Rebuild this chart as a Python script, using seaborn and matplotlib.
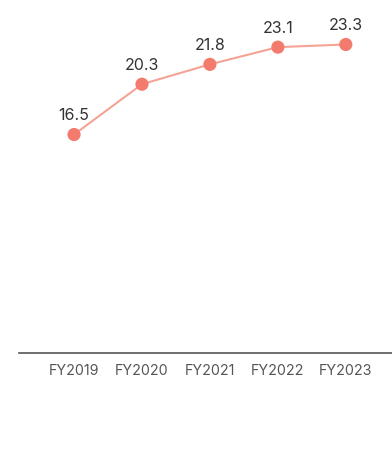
import matplotlib
matplotlib.use("Agg")
import matplotlib.pyplot as plt
import seaborn as sns
import pandas as pd

years = ["FY2019", "FY2020", "FY2021", "FY2022", "FY2023"]
values = [16.5, 20.3, 21.8, 23.1, 23.3]

sns.set_theme(style="white")
plt.rcParams["font.family"] = ["Inter", "DejaVu Sans"]

df = pd.DataFrame({"year": years, "value": values})

fig = plt.figure(figsize=(3.92, 4.54), dpi=100)
ax = fig.add_axes([19 / 392, 101 / 454, 1 - 19 / 392, 353 / 454])

sns.lineplot(data=df, x="year", y="value", ax=ax, color="#F4A394",
             linewidth=1.5, sort=False)
sns.scatterplot(data=df, x="year", y="value", ax=ax, color="#F27B6E",
                s=90, edgecolor="none", zorder=3)

for i, v in enumerate(values):
    ax.annotate(f"{v:.1f}", (i, v), xytext=(0, 8), textcoords="offset points",
                ha="center", va="bottom", fontsize=11.5, color="#333333")

ax.set_ylim(0, 26.66)
ax.set_xlim(-0.81, 4.68)
ax.set_xlabel("")
ax.set_ylabel("")
ax.set_yticks([])
for s in ["top", "right", "left"]:
    ax.spines[s].set_visible(False)
ax.spines["bottom"].set_color("#555555")
ax.spines["bottom"].set_linewidth(1.2)
ax.tick_params(axis="x", length=0, pad=8, labelsize=10.3, labelcolor="#555555")

fig.savefig("out.png", dpi=100)
